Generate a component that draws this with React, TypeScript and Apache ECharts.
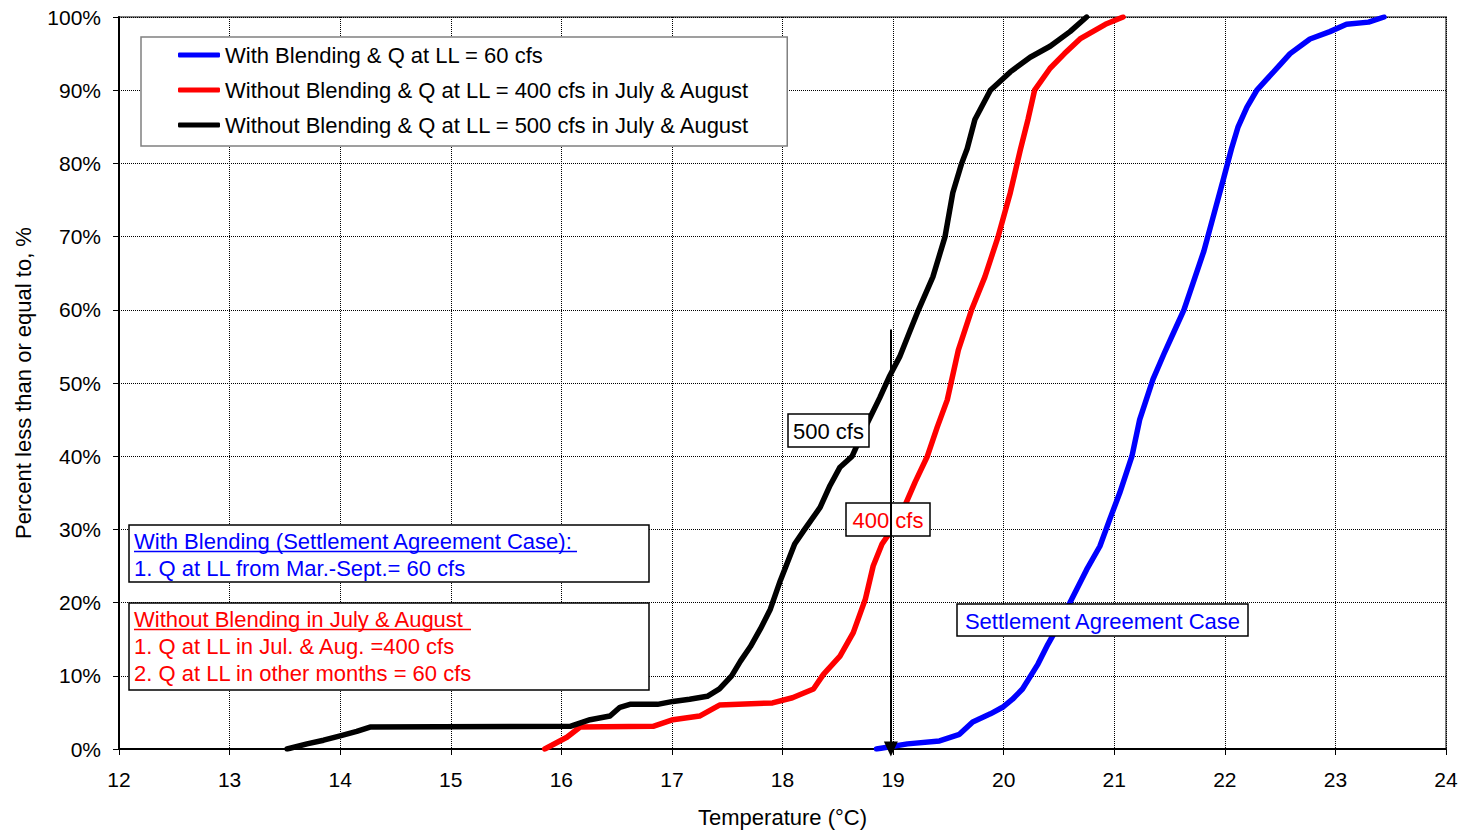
import React, { useEffect, useRef } from "react";
import * as echarts from "echarts";

const X_TICKS_MIN = 12;
const X_TICKS_MAX = 24;

const SERIES_NAMES = [
  "With Blending & Q at LL = 60 cfs",
  "Without Blending & Q at LL = 400 cfs in July & August",
  "Without Blending & Q at LL = 500 cfs in July & August",
];

const T_BLUE = [18.85, 19.13, 19.42, 19.6, 19.72, 19.88, 19.99, 20.08, 20.17, 20.31, 20.4, 20.5, 20.6, 20.75, 20.87, 20.96, 21.05, 21.16, 21.23, 21.35, 21.45, 21.54, 21.63, 21.72, 21.81, 21.9, 21.99, 22.06, 22.12, 22.2, 22.29, 22.38, 22.5, 22.59, 22.77, 22.95, 23.1, 23.3, 23.44];
const P_BLUE = [0, 0.7, 1.1, 2, 3.7, 4.8, 5.7, 6.8, 8.2, 11.6, 14.3, 17, 20, 24.5, 27.7, 31.4, 35, 40, 45, 50.5, 54, 57, 60, 64, 68, 73, 78, 82, 85, 87.7, 90, 91.5, 93.5, 95, 97, 98, 99, 99.3, 100];

const T_RED = [15.85, 16.05, 16.17, 16.83, 17.01, 17.25, 17.43, 17.91, 18.09, 18.28, 18.37, 18.52, 18.64, 18.75, 18.82, 18.9, 18.99, 19.1, 19.2, 19.31, 19.4, 19.49, 19.59, 19.71, 19.83, 19.95, 20.06, 20.15, 20.22, 20.28, 20.42, 20.55, 20.69, 20.92, 21.08];
const P_RED = [0, 1.6, 3, 3.1, 4, 4.5, 6, 6.3, 7, 8.2, 10.2, 12.7, 15.9, 20.5, 25, 28, 30, 33, 36.5, 40, 44, 47.7, 54.5, 60, 64.5, 70, 76, 81.8, 86, 90, 93, 95, 97, 99, 100];

const T_BLACK = [13.52, 13.7, 13.85, 14.0, 14.15, 14.27, 16.08, 16.26, 16.44, 16.53, 16.62, 16.87, 17.01, 17.16, 17.32, 17.43, 17.54, 17.62, 17.71, 17.8, 17.89, 17.98, 18.11, 18.2, 18.34, 18.43, 18.52, 18.63, 18.75, 18.88, 18.97, 19.06, 19.15, 19.23, 19.36, 19.47, 19.54, 19.62, 19.67, 19.74, 19.88, 20.06, 20.24, 20.42, 20.6, 20.75];
const P_BLACK = [0, 0.7, 1.2, 1.8, 2.4, 3, 3.1, 4, 4.5, 5.7, 6.1, 6.1, 6.5, 6.8, 7.2, 8.2, 10, 12, 14, 16.4, 19.1, 23, 28, 30, 33, 36, 38.5, 40, 44, 48, 51, 53.6, 57, 60, 64.5, 70, 76, 80, 82, 86, 90, 92.5, 94.5, 96, 98, 100];

const ARROW_T = 18.98;
const ARROW_FROM = 57.3;
const ARROW_TO = 0;

const zip = (a: number[], b: number[]) => a.map((v, i) => [v, b[i]]);

const FONT = "Liberation Sans";
const FS = 22;

function box(x: number, y: number, w: number, h: number, lines: { text: string; color: string; underline?: number }[], lineH: number, textX: number, firstY: number) {
  const children: any[] = [
    { type: "rect", z: 5, shape: { x, y, width: w, height: h }, style: { fill: "#fff", stroke: "#000", lineWidth: 1.5 } },
  ];
  lines.forEach((l, i) => {
    const cy = firstY + i * lineH;
    children.push({
      type: "text",
      z: 6,
      x: textX,
      y: cy,
      style: { text: l.text, fill: l.color, fontSize: FS, fontFamily: FONT, align: "left", verticalAlign: "middle" },
    });
    if (l.underline) {
      children.push({
        type: "line",
        z: 6,
        shape: { x1: textX, y1: cy + 10.5, x2: textX + l.underline, y2: cy + 10.5 },
        style: { stroke: l.color, lineWidth: 1.5 },
      });
    }
  });
  return { type: "group", children };
}

function label(x: number, y: number, w: number, h: number, text: string, color: string) {
  return {
    type: "group",
    children: [
      { type: "rect", z: 5, shape: { x, y, width: w, height: h }, style: { fill: "#fff", stroke: "#000", lineWidth: 1.5 } },
      {
        type: "text",
        z: 6,
        x: x + w / 2,
        y: y + h / 2 + 1,
        style: { text, fill: color, fontSize: FS, fontFamily: FONT, align: "center", verticalAlign: "middle" },
      },
    ],
  };
}

export default function App() {
  const ref = useRef<HTMLDivElement>(null);
  useEffect(() => {
    if (!ref.current) return;
    const chart = echarts.init(ref.current, undefined, { renderer: "svg" });
    const lineSeries = (name: string, color: string, data: number[][]) => ({
      name,
      type: "line",
      data,
      showSymbol: false,
      symbol: "none",
      lineStyle: { color, width: 5.5, cap: "round", join: "round" },
      itemStyle: { color },
      z: 2,
    });
    chart.setOption({
      animation: false,
      textStyle: { fontFamily: FONT },
      grid: { left: 119, right: 18, top: 17, bottom: 83, show: true, borderColor: "#808080", borderWidth: 2, backgroundColor: "transparent" },
      legend: {
        data: SERIES_NAMES,
        orient: "vertical",
        left: 141,
        top: 37,
        padding: [7, 37, 10, 37],
        itemGap: 13,
        itemWidth: 42,
        itemHeight: 5,
        icon: "roundRect",
        backgroundColor: "#fff",
        borderColor: "#808080",
        borderWidth: 1.5,
        textStyle: { fontSize: FS, fontFamily: FONT, color: "#000", lineHeight: 22 },
        selectedMode: false,
        z: 5,
      },
      xAxis: {
        type: "value",
        min: X_TICKS_MIN,
        max: X_TICKS_MAX,
        interval: 1,
        name: "Temperature (°C)",
        nameLocation: "middle",
        nameGap: 57,
        nameTextStyle: { fontSize: FS, fontFamily: FONT, color: "#000" },
        axisLine: { onZero: false, lineStyle: { color: "#000", width: 2 } },
        axisTick: { show: true, length: 6, lineStyle: { color: "#000", width: 1 } },
        axisLabel: { fontSize: 21, fontFamily: FONT, color: "#000", margin: 20 },
        splitLine: { show: true, lineStyle: { color: "#000", type: "dotted", width: 1 } },
      },
      yAxis: {
        type: "value",
        min: 0,
        max: 100,
        interval: 10,
        name: "Percent less than or equal to, %",
        nameLocation: "middle",
        nameGap: 85,
        nameTextStyle: { fontSize: FS, fontFamily: FONT, color: "#000" },
        axisLine: { show: true, lineStyle: { color: "#000", width: 2 } },
        axisTick: { show: true, length: 6, lineStyle: { color: "#000", width: 1 } },
        axisLabel: { fontSize: 21, fontFamily: FONT, color: "#000", margin: 18, formatter: "{value}%" },
        splitLine: { show: true, lineStyle: { color: "#000", type: "dotted", width: 1 } },
      },
      series: [
        lineSeries(SERIES_NAMES[0], "#0000ff", zip(T_BLUE, P_BLUE)),
        lineSeries(SERIES_NAMES[1], "#ff0000", zip(T_RED, P_RED)),
        lineSeries(SERIES_NAMES[2], "#000000", zip(T_BLACK, P_BLACK)),
        {
          name: "arrow",
          type: "line",
          data: [],
          z: 10,
          markLine: {
            silent: true,
            symbol: ["none", "triangle"],
            symbolSize: [14, 15],
            label: { show: false },
            lineStyle: { color: "#000", width: 2, type: "solid" },
            data: [[{ coord: [ARROW_T, ARROW_FROM] }, { coord: [ARROW_T, ARROW_TO] }]],
            z: 10,
          },
        },
      ],
      graphic: [
        box(129, 525, 520, 57, [
          { text: "With Blending (Settlement Agreement Case):", color: "#0000ff", underline: 443 },
          { text: "1. Q at LL from Mar.-Sept.= 60 cfs", color: "#0000ff" },
        ], 27, 134, 541),
        box(129, 603, 520, 87, [
          { text: "Without Blending in July & August ", color: "#ff0000", underline: 337 },
          { text: "1. Q at LL in Jul. & Aug. =400 cfs", color: "#ff0000" },
          { text: "2. Q at LL in other months = 60 cfs", color: "#ff0000" },
        ], 27, 134, 619),
        label(788, 414, 81, 33, "500 cfs", "#000"),
        label(846, 503, 84, 33, "400 cfs", "#ff0000"),
        label(957, 604, 291, 32, "Settlement Agreement Case", "#0000ff"),
      ],
    });
    return () => chart.dispose();
  }, []);
  return <div ref={ref} style={{ position: "fixed", left: 0, top: 0, width: 1464, height: 833, background: "#fff" }} />;
}
